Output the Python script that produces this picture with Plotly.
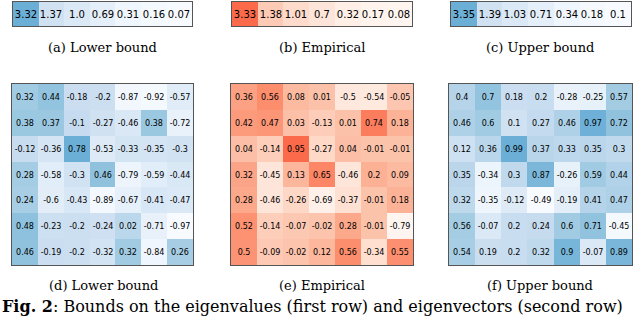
import plotly.graph_objects as go

W, H = 640, 317

eig_lower = [3.32, 1.37, 1.0, 0.69, 0.31, 0.16, 0.07]
eig_emp = [3.33, 1.38, 1.01, 0.7, 0.32, 0.17, 0.08]
eig_upper = [3.35, 1.39, 1.03, 0.71, 0.34, 0.18, 0.1]

vec_lower = [
    [0.32, 0.44, -0.18, -0.2, -0.87, -0.92, -0.57],
    [0.38, 0.37, -0.1, -0.27, -0.46, 0.38, -0.72],
    [-0.12, -0.36, 0.78, -0.53, -0.33, -0.35, -0.3],
    [0.28, -0.58, -0.3, 0.46, -0.79, -0.59, -0.44],
    [0.24, -0.6, -0.43, -0.89, -0.67, -0.41, -0.47],
    [0.48, -0.23, -0.2, -0.24, 0.02, -0.71, -0.97],
    [0.46, -0.19, -0.2, -0.32, 0.32, -0.84, 0.26],
]
vec_emp = [
    [0.36, 0.56, 0.08, 0.01, -0.5, -0.54, -0.05],
    [0.42, 0.47, 0.03, -0.13, 0.01, 0.74, 0.18],
    [0.04, -0.14, 0.95, -0.27, 0.04, -0.01, -0.01],
    [0.32, -0.45, 0.13, 0.65, -0.46, 0.2, 0.09],
    [0.28, -0.46, -0.26, -0.69, -0.37, -0.01, 0.18],
    [0.52, -0.14, -0.07, -0.02, 0.28, -0.01, -0.79],
    [0.5, -0.09, -0.02, 0.12, 0.56, -0.34, 0.55],
]
vec_upper = [
    [0.4, 0.7, 0.18, 0.2, -0.28, -0.25, 0.57],
    [0.46, 0.6, 0.1, 0.27, 0.46, 0.97, 0.72],
    [0.12, 0.36, 0.99, 0.37, 0.33, 0.35, 0.3],
    [0.35, -0.34, 0.3, 0.87, -0.26, 0.59, 0.44],
    [0.32, -0.35, -0.12, -0.49, -0.19, 0.41, 0.47],
    [0.56, -0.07, 0.2, 0.24, 0.6, 0.71, -0.45],
    [0.54, 0.19, 0.2, 0.32, 0.9, -0.07, 0.89],
]

sub_captions = ["(a) Lower bound", "(b) Empirical", "(c) Upper bound",
                "(d) Lower bound", "(e) Empirical", "(f) Upper bound"]
fig_caption_bold = "Fig. 2"
fig_caption_rest = ": Bounds on the eigenvalues (first row) and eigenvectors (second row)"

blues = [[0, "#f7fbff"], [0.25, "#deebf7"], [0.5, "#c6dbef"], [0.75, "#9ecae1"], [1, "#6baed6"]]
reds = [[0, "#fff5f0"], [0.25, "#fee0d2"], [0.5, "#fcbba1"], [0.75, "#fc9272"], [1, "#fb6a4a"]]

# pixel boxes: (x0, x1, y0, y1)
boxes = [
    (13, 192, 2, 26), (232, 412, 2, 26), (451, 631, 2, 26),
    (12, 193, 84, 265), (231, 413, 84, 265), (449, 632, 84, 265),
]
cap_pos = [(102, 48), (322, 48), (540, 48), (103, 285), (322, 285), (540, 285)]

mats = [[eig_lower], [eig_emp], [eig_upper], vec_lower, vec_emp, vec_upper]
scales = [blues, reds, blues, blues, reds, blues]
fsizes = [10, 10, 10, 8, 8, 8]

fig = go.Figure()
layout = {}
for i, (m, cs, fs, b) in enumerate(zip(mats, scales, fsizes, boxes)):
    n = i + 1
    xa = "x" if n == 1 else f"x{n}"
    ya = "y" if n == 1 else f"y{n}"
    flat = [v for r in m for v in r]
    fig.add_trace(go.Heatmap(
        z=m, text=[[str(v) for v in r] for r in m], texttemplate="%{text}",
        textfont=dict(family="DejaVu Sans", size=fs, color="black"),
        colorscale=cs, zmin=min(flat), zmax=max(flat), showscale=False,
        xaxis=xa, yaxis=ya, hoverinfo="skip",
    ))
    x0, x1, y0, y1 = b
    ax = dict(showgrid=False, zeroline=False, showticklabels=False, ticks="",
              showline=True, mirror=True, linecolor="#555555", linewidth=1)
    layout["xaxis" if n == 1 else f"xaxis{n}"] = dict(
        domain=[x0 / W, x1 / W], anchor=ya, range=[-0.5, 6.5], **ax)
    layout["yaxis" if n == 1 else f"yaxis{n}"] = dict(
        domain=[1 - y1 / H, 1 - y0 / H], anchor=xa,
        range=[len(m) - 0.5, -0.5], **ax)

fig.update_layout(**layout)

annots = []
for txt, (cx, cy) in zip(sub_captions, cap_pos):
    annots.append(dict(text=txt, x=cx / W, y=1 - cy / H, xref="paper", yref="paper",
                       showarrow=False, xanchor="center", yanchor="middle",
                       font=dict(family="DejaVu Serif", size=13, color="black")))
annots.append(dict(text=f"<b>{fig_caption_bold}</b>{fig_caption_rest}",
                   x=0 / W, y=1 - 306 / H, xref="paper", yref="paper",
                   showarrow=False, xanchor="left", yanchor="middle",
                   font=dict(family="DejaVu Serif", size=16, color="black")))

fig.update_layout(width=W, height=H, margin=dict(l=0, r=0, t=0, b=0),
                  paper_bgcolor="white", plot_bgcolor="white",
                  annotations=annots)
fig.write_html("out.html", config={"displayModeBar": False},
               post_script="document.body.style.margin='0';document.body.style.overflow='hidden';")
